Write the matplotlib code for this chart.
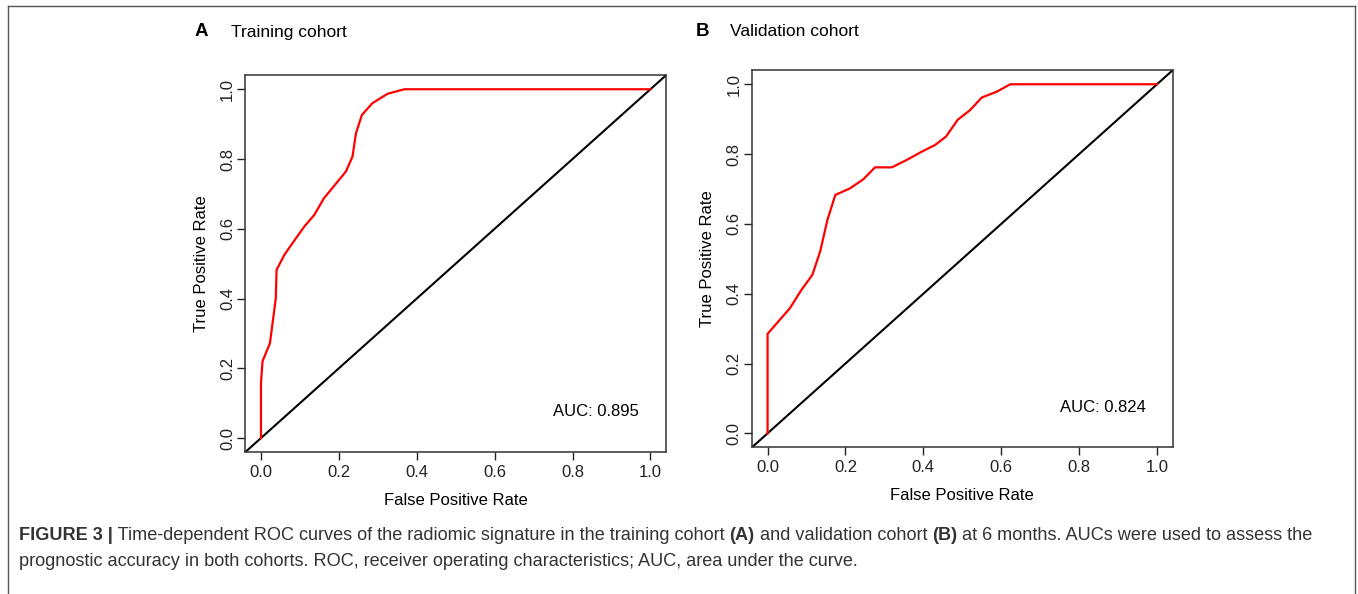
import numpy as np
import matplotlib.pyplot as plt
from matplotlib.lines import Line2D

plt.rcParams['font.family'] = ['Liberation Sans', 'DejaVu Sans']

# ROC points
fpr_train = [0.0, 0.0, 0.004, 0.023, 0.038, 0.040, 0.060, 0.081, 0.111, 0.137, 0.162,
             0.218, 0.235, 0.244, 0.259, 0.286, 0.325, 0.368, 1.0]
tpr_train = [0.0, 0.158, 0.220, 0.272, 0.400, 0.482, 0.525, 0.559, 0.606, 0.640, 0.688,
             0.764, 0.807, 0.874, 0.926, 0.960, 0.987, 1.0, 1.0]

fpr_valid = [0.0, 0.0, 0.057, 0.087, 0.115, 0.135, 0.154, 0.174, 0.212, 0.246, 0.276,
             0.319, 0.357, 0.396, 0.430, 0.458, 0.488, 0.520, 0.550, 0.589, 0.623, 1.0]
tpr_valid = [0.0, 0.285, 0.358, 0.411, 0.454, 0.521, 0.613, 0.683, 0.702, 0.728, 0.762,
             0.762, 0.783, 0.807, 0.826, 0.850, 0.898, 0.926, 0.962, 0.979, 1.0, 1.0]

auc_train = 0.895
auc_valid = 0.824
ticks = [0.0, 0.2, 0.4, 0.6, 0.8, 1.0]

W, H = 1358, 594
fig = plt.figure(figsize=(W / 100, H / 100), dpi=100)

def roc_panel(rect, fpr, tpr, auc):
    ax = fig.add_axes(rect)
    ax.axline((0, 0), (1, 1), color='black', lw=1.5)
    ax.plot(fpr, tpr, color='red', lw=1.6)
    ax.set_xlim(-0.04, 1.04)
    ax.set_ylim(-0.04, 1.04)
    ax.set_xticks(ticks)
    ax.set_yticks(ticks)
    ax.set_xticklabels([f"{t:.1f}" for t in ticks])
    ax.set_yticklabels([f"{t:.1f}" for t in ticks], rotation=90, va='center')
    ax.tick_params(direction='out', length=5.5, width=1, labelsize=12, colors='#222222')
    ax.tick_params(axis='x', pad=4)
    ax.tick_params(axis='y', pad=2)
    for s in ax.spines.values():
        s.set_linewidth(1.1)
        s.set_color('#333333')
    ax.set_xlabel("False Positive Rate", fontsize=12, labelpad=9)
    ax.set_ylabel("True Positive Rate", fontsize=12, labelpad=8)
    ax.text(0.86, 0.075, f"AUC: {auc:.3f}", fontsize=12, ha='center', va='center')
    return ax

roc_panel([245.4 / W, 1 - 452 / H, 420.6 / W, 376.7 / H], fpr_train, tpr_train, auc_train)
roc_panel([752 / W, 1 - 447.3 / H, 420.6 / W, 377 / H], fpr_valid, tpr_valid, auc_valid)

# panel titles
fig.text(195 / W, 1 - 32 / H, "A", fontsize=13.5, fontweight='bold', va='center')
fig.text(231 / W, 1 - 32 / H, "Training cohort", fontsize=12.5, va='center')
fig.text(696 / W, 1 - 32 / H, "B", fontsize=13.5, fontweight='bold', va='center')
fig.text(730 / W, 1 - 32 / H, "Validation cohort", fontsize=12.5, va='center')

# frame around the figure (open at the bottom)
fig.add_artist(Line2D([8 / W, 8 / W], [0, 1 - 6 / H], color='#555555', lw=1))
fig.add_artist(Line2D([1355 / W, 1355 / W], [0, 1 - 6 / H], color='#555555', lw=1))
fig.add_artist(Line2D([8 / W, 1355 / W], [1 - 6 / H, 1 - 6 / H], color='#555555', lw=1))

# caption with bold pieces
cap_lines = [
    [("FIGURE 3 |", 'bold'), (" Time-dependent ROC curves of the radiomic signature in the training cohort ", 'normal'),
     ("(A)", 'bold'), (" and validation cohort ", 'normal'), ("(B)", 'bold'),
     (" at 6 months. AUCs were used to assess the", 'normal')],
    [("prognostic accuracy in both cohorts. ROC, receiver operating characteristics; AUC, area under the curve.", 'normal')],
]
cap_y = [535, 561]
fig.canvas.draw()
r = fig.canvas.get_renderer()
for line, yy in zip(cap_lines, cap_y):
    x = 19
    for txt, wt in line:
        t = fig.text(x / W, 1 - yy / H, txt, fontsize=13.1, fontweight=wt, color='#333333', va='center')
        x += t.get_window_extent(renderer=r).width

fig.savefig("out.png", dpi=100)
